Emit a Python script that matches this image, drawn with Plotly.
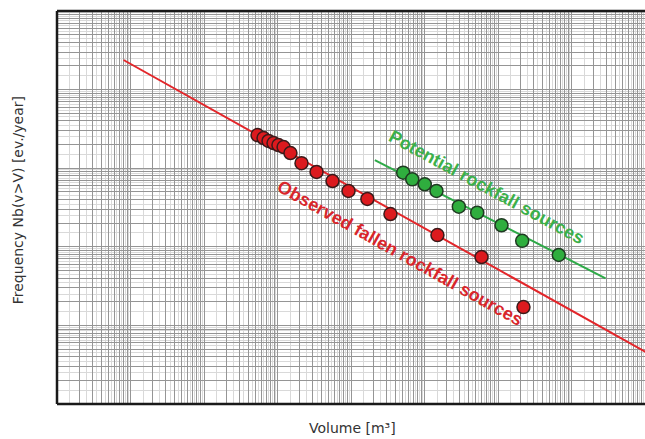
import plotly.graph_objects as go

# Observed fallen rockfall sources (volume m3, frequency ev./year)
red_x = [5.35, 6.46, 7.55, 8.83, 10.3, 12.1, 15.0, 21.2, 34.0, 56.0, 92.5, 167, 344, 1500, 5970, 22200]
red_y = [0.264, 0.242, 0.222, 0.209, 0.197, 0.186, 0.156, 0.116, 0.0895, 0.0687, 0.0513, 0.0406, 0.0261, 0.0141, 0.00741, 0.00171]
# Potential rockfall sources
green_x = [513, 681, 1009, 1456, 2930, 5210, 11170, 21330, 67140]
green_y = [0.0877, 0.0722, 0.0624, 0.0513, 0.0324, 0.0272, 0.0188, 0.0119, 0.00787]
# Power-law fits
red_fit_x = [0.0804, 1.19e6]
red_fit_y = [2.38, 4.24e-4]
green_fit_x = [211, 290400]
green_fit_y = [0.127, 0.00397]

x_decades = list(range(-2, 6))
y_decades = list(range(-4, 1))

def major_vals(decs):
    v = []
    for n in decs:
        for k in range(1, 10):
            v.append(k * 10 ** n)
    v.append(10 ** (decs[-1] + 1))
    return v

def minor_vals(decs):
    v = []
    for n in decs:
        for k in range(1, 10):
            v.append((k + 0.5) * 10 ** n)
    return v

RED = "#e3262a"
GREEN = "#2eaa48"

fig = go.Figure()
fig.add_trace(go.Scatter(x=red_fit_x, y=red_fit_y, mode="lines",
                         line=dict(color=RED, width=2), showlegend=False))
fig.add_trace(go.Scatter(x=green_fit_x, y=green_fit_y, mode="lines",
                         line=dict(color=GREEN, width=2), showlegend=False))
fig.add_trace(go.Scatter(x=red_x, y=red_y, mode="markers",
                         marker=dict(size=13, color="#dc1a1e", line=dict(color="#3a1a1a", width=1.5)),
                         showlegend=False))
fig.add_trace(go.Scatter(x=green_x, y=green_y, mode="markers",
                         marker=dict(size=13, color="#2fae3e", line=dict(color="#1f3a22", width=1.5)),
                         showlegend=False))

axis_common = dict(
    type="log", showticklabels=False, ticks="", showline=False, zeroline=False,
    showgrid=True, gridcolor="#959595", gridwidth=1, tickmode="array",
)
fig.update_xaxes(**axis_common, range=[-2, 6], tickvals=major_vals(x_decades),
                 minor=dict(tickmode="array", tickvals=minor_vals(x_decades), showgrid=True,
                            gridcolor="#d9d9d9", gridwidth=1, ticks=""))
fig.update_yaxes(**axis_common, range=[-4, 1], tickvals=major_vals(y_decades),
                 minor=dict(tickmode="array", tickvals=minor_vals(y_decades), showgrid=True,
                            gridcolor="#d9d9d9", gridwidth=1, ticks=""))

border = dict(color="#1a1a1a", width=2.5)
fig.add_shape(type="line", xref="paper", yref="paper", x0=0, y0=0, x1=0, y1=1, line=border)
fig.add_shape(type="line", xref="paper", yref="paper", x0=0, y0=1, x1=1, y1=1, line=border)
fig.add_shape(type="line", xref="paper", yref="paper", x0=0, y0=0, x1=1, y1=0, line=border)

fig.add_annotation(xref="paper", yref="paper", x=0.730, y=0.552, text="<b>Potential rockfall sources</b>",
                   textangle=28.5, showarrow=False, xanchor="center", yanchor="middle",
                   font=dict(family="Liberation Sans, Arial", size=18, color="#3cb04a"))
fig.add_annotation(xref="paper", yref="paper", x=0.583, y=0.384, text="<b>Observed fallen rockfall sources</b>",
                   textangle=29.3, showarrow=False, xanchor="center", yanchor="middle",
                   font=dict(family="Liberation Sans, Arial", size=18, color="#d8262b"))
fig.add_annotation(xref="paper", yref="paper", x=-0.066, y=0.519, text="Frequency Nb(v>V) [ev./year]",
                   textangle=-90, showarrow=False, xanchor="center", yanchor="middle",
                   font=dict(family="DejaVu Sans", size=14, color="#333333"))
fig.add_annotation(xref="paper", yref="paper", x=0.502, y=-0.061, text="Volume [m³]",
                   showarrow=False, xanchor="center", yanchor="middle",
                   font=dict(family="DejaVu Sans", size=14, color="#333333"))

fig.update_layout(
    width=645, height=439,
    margin=dict(l=57, r=0, t=11, b=35),
    plot_bgcolor="white", paper_bgcolor="white",
)
# remove the default page margin so the figure fills the window exactly
fig.write_html("out.html", config={"displayModeBar": False},
               post_script="document.body.style.margin='0px';document.body.style.overflow='hidden';")
